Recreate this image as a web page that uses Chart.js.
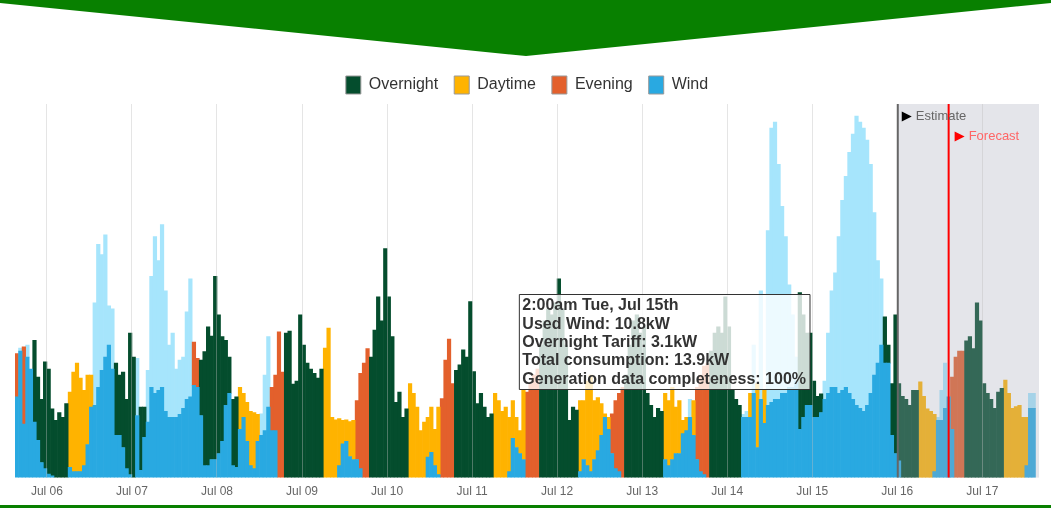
<!DOCTYPE html>
<html>
<head>
<meta charset="utf-8">
<title>Wind and tariff consumption</title>
<script src="https://cdn.jsdelivr.net/npm/chart.js@4.4.1/dist/chart.umd.min.js"></script>
<style>
  html, body { margin: 0; padding: 0; background: #fff; }
  body { width: 1051px; height: 508px; overflow: hidden; position: relative; }
  #banner { position: absolute; left: 0; top: 0; }
  #chart-wrap { position: absolute; left: 0; top: 0; width: 1051px; height: 508px; }
  #footer-line { position: absolute; left: 0; top: 505px; width: 1051px; height: 3px; background: #088000; }
</style>
</head>
<body>
<svg id="banner" width="1051" height="60"><polygon points="0,0 1051,0 1051,3 526,56 0,3" fill="#088000"/></svg>
<div id="chart-wrap"><canvas id="usage-chart" width="1051" height="508"></canvas></div>
<div id="footer-line"></div>
<script>
// Hourly readings in kW, first bar is Jul 05 15:00 (hours counted from Jul 05 00:00)
const firstHour = 15;

const consumption = [
    // Jul 05 15:00 - 23:00
    20.6, 21, 21.7, 20, 18, 22.8, 16.7, 13, 19.2,
    // Jul 06
    18, 11.4, 9.5, 10.8, 10, 12.3, 14.2, 17.5, 19, 16.5, 14.5, 17, 17, 12, 15, 17.8, 20, 22, 18, 19, 17, 17.5, 13, 24,
    // Jul 07
    20, 10.3, 11.7, 11.7, 9.2, 15, 14, 14.5, 15, 11, 10, 10, 10, 10.5, 11.5, 13, 13.4, 22.5, 19.8, 19.5, 20.9, 25, 23.5, 33.4,
    // Jul 08
    27, 23.4, 22.8, 20, 13, 13.4, 15, 14, 12.5, 11, 10.8, 10.5, 7, 7.8, 11.7, 15, 17, 24.2, 17.5, 24, 24.3, 15.5, 16, 27,
    // Jul 09
    22, 19, 18, 17.3, 16.5, 18, 21.5, 24.8, 10, 9.6, 9.8, 9.5, 9.6, 9.3, 9.5, 12.8, 17.3, 19, 21.4, 20, 24.5, 30, 26, 38,
    // Jul 10
    30, 23.4, 12.5, 14.2, 10, 11.4, 15.6, 14, 11.7, 7.8, 9.2, 10, 11.7, 8, 11.7, 13.1, 19.5, 23, 15.6, 17.8, 18.7, 21.2, 20, 29.2,
    // Jul 11
    17.6, 12.3, 14, 11.7, 10, 10.6, 14, 12.8, 11, 11.7, 10, 12.8, 10, 7.8, 14.5, 14.2, 15.5, 17, 18, 22, 26, 28, 27, 29,
    // Jul 12
    33, 28, 22, 9.5, 11.7, 11.2, 12.8, 12.8, 16, 17, 12.8, 13.3, 12.3, 10.6, 10, 10.6, 12.8, 14, 15, 17, 22, 26, 27, 24,
    // Jul 13
    25, 14, 12, 10, 11.5, 11, 14, 12.8, 15, 11.7, 12.8, 9.5, 10, 10, 12.8, 15, 17, 18.5, 19, 21, 24, 25, 24, 30,
    // Jul 14
    25, 14.5, 13, 12, 10, 10, 14, 14, 15.6, 13, 14.5, 12, 12.5, 13, 13, 14, 14, 15, 15, 16, 30.7, 27, 24, 24,
    // Jul 15
    16, 13.5, 13.9, 13, 14, 15, 15, 14, 14.5, 15, 14, 13, 12, 11.5, 11, 12, 14, 17, 19, 22, 26.7, 22, 15.6, 27,
    // Jul 16
    15.6, 13.5, 13, 12, 14.5, 14.5, 15.9, 13.5, 11.4, 11, 10.5, 9.5, 9.5, 11.5, 13.4, 16.7, 20, 21, 21, 22.7, 23.4, 21.4, 29, 26,
    // Jul 17 00:00 - 14:00
    15.6, 14, 13, 11.5, 14.2, 14.8, 16.2, 14, 11.5, 11.8, 12, 10, 10, 11.5, 11.5
];

const generation = [
    // Jul 05 15:00 - 23:00
    13.4, 21.5, 8.9, 22, 18, 9.2, 6.2, 2.5, 1.5,
    // Jul 06
    0.6, 0.3, 0, 0, 0, 0, 1.7, 1, 1, 1, 2, 5.5, 11.7, 29, 38.7, 37, 40.3, 28.5, 28, 7, 7, 5, 1.5, 0.5,
    // Jul 07
    0, 19.8, 1.2, 6.7, 17.8, 33.4, 40, 36, 42, 31, 22, 24, 18, 19.5, 20, 27.5, 33, 15.3, 15, 10.3, 2, 2, 3, 3,
    // Jul 08
    4, 6, 12, 14, 2, 1.7, 8, 10, 6, 2, 1.5, 6, 10.6, 17, 23.4, 7.8, 7.8, 0, 0, 0, 0, 0, 0, 0,
    // Jul 09
    0, 0, 0, 0, 0, 0, 0, 0, 0, 0, 2, 5.6, 6, 3.5, 3, 3, 1.5, 0, 0, 0, 0, 0, 0, 0,
    // Jul 10
    0, 0, 0, 0, 0, 0, 0, 0, 0, 0, 0, 3.4, 4.2, 2, 0.5, 0, 0, 0, 0, 0, 0, 0, 0, 0,
    // Jul 11
    0, 0, 0, 0, 0, 0, 0, 0, 0, 0, 1, 6.5, 5, 4, 3, 0, 0, 0, 0, 0, 0, 0, 0, 0,
    // Jul 12
    0, 0, 0, 0, 0, 0, 1, 3, 2, 1, 3, 4.5, 7, 10, 8, 4, 1.5, 1, 0, 0, 0, 0, 0, 0,
    // Jul 13
    0, 0, 0, 0, 0, 0, 3, 2, 3, 4, 4, 7.3, 7.8, 13, 7, 3, 1, 0.5, 0, 0, 0, 0, 0, 0,
    // Jul 14
    0, 0, 0, 0, 10.5, 11, 10, 22, 5, 31, 9, 41, 58, 59, 52, 45, 40, 32, 27, 20, 8, 10, 12, 12,
    // Jul 15
    10, 10, 10.8, 16, 24, 31, 34, 40, 46, 50, 54, 57, 60, 59, 58, 56, 52, 44, 36, 33, 19, 19, 7, 4,
    // Jul 16
    2.8, 0, 0, 0, 0, 0, 0, 0, 0, 0, 1, 10, 14.5, 19, 13.4, 8, 0, 0, 0, 0, 0, 0, 0, 0,
    // Jul 17 00:00 - 14:00
    0, 0, 0, 0, 0, 0, 0, 0, 0, 0, 0, 0, 2, 14, 14
];

const dayLabels = ['Jul 06', 'Jul 07', 'Jul 08', 'Jul 09', 'Jul 10', 'Jul 11',
                   'Jul 12', 'Jul 13', 'Jul 14', 'Jul 15', 'Jul 16', 'Jul 17'];
const weekdays = ['Sat', 'Sun', 'Mon', 'Tue', 'Wed', 'Thu', 'Fri']; // Jul 05 is a Saturday
const legendOrder = ['Overnight', 'Daytime', 'Evening', 'Wind'];

const estimateFrom = 264;   // Jul 16 00:00
const forecastFrom = 278.5; // Jul 16 14:30
const tooltipHour = 242;    // Jul 15 02:00

const colors = {
    Overnight: '#044d2d',
    Daytime: '#ffb300',
    Evening: '#e3602c',
    Wind: '#29a9e1',
    Unused: '#a6e5fc'
};

const FONT = "'Liberation Sans', Arial, sans-serif";

function tariffFor(hour) {
    const hod = hour % 24;
    if (hod >= 15 && hod < 19) return 'Evening';
    if (hod >= 6 && hod < 15) return 'Daytime';
    return 'Overnight';
}

// split each hour into used wind / tariff band / unused wind
const usedWind = [];
const unusedWind = [];
const tariff = { Overnight: [], Daytime: [], Evening: [] };
consumption.forEach((c, i) => {
    const h = firstHour + i;
    const g = generation[i];
    const x = h + 0.5;
    const used = Math.min(c, g);
    usedWind.push({ x, y: used > 0 ? used : null });
    unusedWind.push({ x, y: g > c ? +(g - c).toFixed(1) : null });
    Object.keys(tariff).forEach(name => {
        const t = (name === tariffFor(h) && c > g) ? +(c - g).toFixed(1) : null;
        tariff[name].push({ x, y: t });
    });
});

function hourTitle(h) {
    const day = Math.floor(h / 24);
    const hod = h % 24;
    const hr12 = hod % 12 === 0 ? 12 : hod % 12;
    return `${hr12}:00${hod < 12 ? 'am' : 'pm'} ${weekdays[day % 7]}, Jul ${5 + day}th`;
}

const forecastMarkers = {
    id: 'forecastMarkers',
    afterDatasetsDraw(chart) {
        const { ctx, chartArea: a, scales: { x } } = chart;
        const x0 = x.getPixelForValue(estimateFrom);
        ctx.save();
        ctx.fillStyle = 'rgba(165, 168, 185, 0.3)';
        ctx.fillRect(x0, a.top, a.right - x0, a.bottom - a.top);
        ctx.restore();
    },
    afterDraw(chart) {
        const { ctx, chartArea: a, scales: { x } } = chart;
        const xe = x.getPixelForValue(estimateFrom) + 0.5;
        const xf = x.getPixelForValue(forecastFrom);
        ctx.save();
        ctx.lineWidth = 2;
        ctx.strokeStyle = '#666';
        ctx.beginPath(); ctx.moveTo(xe, a.top); ctx.lineTo(xe, a.bottom); ctx.stroke();
        ctx.strokeStyle = '#ff0000';
        ctx.beginPath(); ctx.moveTo(xf, a.top); ctx.lineTo(xf, a.bottom); ctx.stroke();

        const triangle = (tx, ty, color) => {
            ctx.fillStyle = color;
            ctx.beginPath();
            ctx.moveTo(tx, ty - 5); ctx.lineTo(tx + 10, ty); ctx.lineTo(tx, ty + 5);
            ctx.closePath(); ctx.fill();
        };
        ctx.font = '13px ' + FONT;
        ctx.textBaseline = 'middle';
        triangle(xe + 4, a.top + 12.5, '#000');
        ctx.fillStyle = '#666';
        ctx.fillText('Estimate', xe + 18, a.top + 12.5);
        triangle(xf + 6, a.top + 32.5, '#ff0000');
        ctx.fillStyle = '#ff6666';
        ctx.fillText('Forecast', xf + 20, a.top + 32.5);
        ctx.restore();
    }
};

Chart.Tooltip.positioners.pinned = function () {
    return { x: 810, y: 342 };
};

const barCommon = { borderWidth: 0, barPercentage: 1, categoryPercentage: 1 };

const chart = new Chart(document.getElementById('usage-chart'), {
    type: 'bar',
    data: {
        datasets: [
            { label: 'Wind', data: usedWind, backgroundColor: colors.Wind, ...barCommon },
            { label: 'Overnight', data: tariff.Overnight, backgroundColor: colors.Overnight, ...barCommon },
            { label: 'Daytime', data: tariff.Daytime, backgroundColor: colors.Daytime, ...barCommon },
            { label: 'Evening', data: tariff.Evening, backgroundColor: colors.Evening, ...barCommon },
            { label: 'Unused wind', data: unusedWind, backgroundColor: colors.Unused, ...barCommon }
        ]
    },
    options: {
        responsive: false,
        animation: false,
        events: [],
        layout: { padding: { top: 60, left: 15, right: 12, bottom: 2 } },
        plugins: {
            legend: {
                position: 'top',
                labels: {
                    boxWidth: 15,
                    boxHeight: 18,
                    padding: 16,
                    color: '#333',
                    font: { family: FONT, size: 16 },
                    generateLabels: (c) => Chart.defaults.plugins.legend.labels.generateLabels(c)
                        .map(item => ({ ...item, strokeStyle: '#999', lineWidth: 1 })),
                    filter: (item) => legendOrder.includes(item.text),
                    sort: (a, b) => legendOrder.indexOf(a.text) - legendOrder.indexOf(b.text)
                }
            },
            tooltip: {
                position: 'pinned',
                xAlign: 'right',
                yAlign: 'center',
                caretSize: 0,
                caretPadding: 0,
                cornerRadius: 0,
                displayColors: false,
                backgroundColor: 'rgba(255, 255, 255, 0.8)',
                borderColor: '#333',
                borderWidth: 1,
                titleColor: '#333',
                bodyColor: '#333',
                titleFont: { family: FONT, size: 16, weight: 'bold', lineHeight: 1.15 },
                bodyFont: { family: FONT, size: 16, weight: 'bold', lineHeight: 1.15 },
                titleMarginBottom: 0,
                titleSpacing: 0,
                bodySpacing: 0,
                padding: { top: 2, bottom: 1, left: 3, right: 4 },
                callbacks: {
                    title: (items) => hourTitle(firstHour + items[0].dataIndex),
                    label: (item) => {
                        const i = item.dataIndex;
                        const c = consumption[i];
                        const used = Math.min(c, generation[i]);
                        return [
                            `Used Wind: ${used.toFixed(1)}kW`,
                            `${tariffFor(firstHour + i)} Tariff: ${(c - used).toFixed(1)}kW`,
                            `Total consumption: ${c.toFixed(1)}kW`,
                            'Generation data completeness: 100%'
                        ];
                    }
                }
            }
        },
        scales: {
            x: {
                type: 'linear',
                stacked: true,
                min: firstHour,
                max: 304,
                offset: false,
                border: { display: false },
                grid: { color: 'rgba(190, 190, 190, 0.4)', drawTicks: false, offset: false, z: 1 },
                afterBuildTicks: (axis) => {
                    axis.ticks = dayLabels.map((_, i) => ({ value: 24 * (i + 1) }));
                },
                ticks: {
                    autoSkip: false,
                    maxRotation: 0,
                    padding: 7,
                    color: '#666',
                    font: { family: FONT, size: 12 },
                    callback: (v) => dayLabels[v / 24 - 1]
                }
            },
            y: { stacked: true, display: false, min: 0, max: 62 }
        }
    },
    plugins: [forecastMarkers]
});

chart.tooltip.setActiveElements([{ datasetIndex: 0, index: tooltipHour - firstHour }], { x: 0, y: 0 });
chart.update();
</script>
</body>
</html>
